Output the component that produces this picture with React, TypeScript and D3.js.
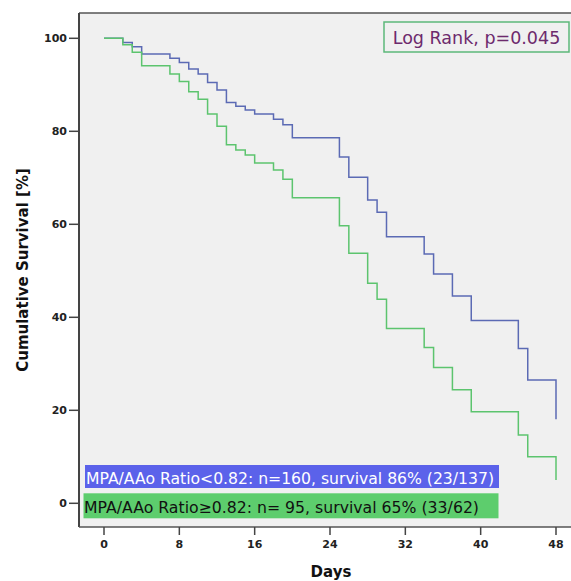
import React from 'react';
import * as d3 from 'd3';

// event days (both groups step on the same days)
const days = [0, 2, 3, 4, 7, 8, 9, 10, 11, 12, 13, 14, 15, 16, 18, 19, 20, 25, 26, 28, 29, 30, 34, 35, 37, 39, 44, 45, 48];
const survivalLow = [100, 99.1, 98.2, 96.6, 95.7, 94.8, 93.4, 92.3, 90.5, 88.9, 86.2, 85.4, 84.6, 83.7, 82.6, 81.4, 78.6, 74.5, 70.1, 65.2, 62.6, 57.3, 53.6, 49.3, 44.6, 39.3, 33.3, 26.5, 18.1];
const survivalHigh = [100, 98.6, 97.0, 94.1, 92.3, 90.7, 88.5, 86.9, 83.7, 81.1, 77.1, 76.0, 74.9, 73.2, 71.7, 69.7, 65.7, 59.7, 53.8, 47.3, 43.9, 37.6, 33.5, 29.2, 24.4, 19.7, 14.7, 10.0, 5.0];

const xTicks = [0, 8, 16, 24, 32, 40, 48];
const yTicks = [0, 20, 40, 60, 80, 100];

const legendLabels = [
  'MPA/AAo Ratio<0.82: n=160, survival 86% (23/137)',
  'MPA/AAo Ratio\u22650.82: n= 95, survival 65% (33/62)',
];
const testLabel = 'Log Rank, p=0.045';

const W = 571;
const H = 581;
const FONT = 'DejaVu Sans';

export default function App() {
  const plot = { left: 79, top: 13, right: 573, bottom: 527 };
  const x = d3.scaleLinear().domain([0, 48]).range([104, 556]);
  const y = d3.scaleLinear().domain([0, 100]).range([503.3, 38.3]);

  const line = d3
    .line<number>()
    .x((_, i) => x(days[i]))
    .y((d) => y(d))
    .curve(d3.curveStepAfter);

  return (
    <svg
      width={W}
      height={H}
      style={{ position: 'absolute', left: 0, top: 0, background: '#fff' }}
      fontFamily={FONT}
    >
      {/* plot area */}
      <rect
        x={plot.left}
        y={plot.top}
        width={plot.right - plot.left}
        height={plot.bottom - plot.top}
        fill="#f0f0f0"
      />
      <line x1={plot.left} x2={plot.right} y1={plot.top} y2={plot.top} stroke="#555" strokeWidth={1.5} />

      {/* curves */}
      <path d={line(survivalLow) || ''} fill="none" stroke="#5b6ab4" strokeWidth={1.5} />
      <path d={line(survivalHigh) || ''} fill="none" stroke="#5cc46e" strokeWidth={1.5} />

      {/* log rank box */}
      <rect x={384} y={22} width={185} height={30} fill="#f0f0f0" stroke="#5cb87a" strokeWidth={1.5} />
      <text x={476.5} y={43.5} textAnchor="middle" fontSize={17.5} fill="#6d2a6d">
        {testLabel}
      </text>

      {/* legend */}
      <rect x={85} y={465} width={414} height={23} fill="#5b62ea" />
      <text x={86} y={484} fontSize={16} fill="#fff" textLength={408} lengthAdjust="spacingAndGlyphs">
        {legendLabels[0]}
      </text>
      <rect x={83.5} y={493.3} width={415} height={25} fill="#5dcd6d" />
      <text x={84} y={513} fontSize={16} fill="#111" textLength={395} lengthAdjust="spacingAndGlyphs">
        {legendLabels[1]}
      </text>

      {/* axes */}
      <line x1={plot.left} x2={plot.left} y1={plot.top} y2={plot.bottom} stroke="#444" strokeWidth={2} />
      <line x1={plot.left} x2={plot.right} y1={plot.bottom} y2={plot.bottom} stroke="#555" strokeWidth={1.5} />

      {yTicks.map((t) => (
        <g key={`y${t}`}>
          <line x1={69} x2={plot.left} y1={y(t)} y2={y(t)} stroke="#444" strokeWidth={1.5} />
          <text x={67} y={y(t)} dy="0.35em" textAnchor="end" fontSize={11} fontWeight="bold" fill="#222">
            {t}
          </text>
        </g>
      ))}
      {xTicks.map((t) => (
        <g key={`x${t}`}>
          <line x1={x(t)} x2={x(t)} y1={plot.bottom} y2={plot.bottom + 8} stroke="#444" strokeWidth={1.5} />
          <text x={x(t)} y={548} textAnchor="middle" fontSize={11} fontWeight="bold" fill="#222">
            {t}
          </text>
        </g>
      ))}

      {/* axis titles */}
      <text x={331} y={577} textAnchor="middle" fontSize={15} fontWeight="bold" fill="#111">
        Days
      </text>
      <text
        transform="translate(28,270) rotate(-90)"
        textAnchor="middle"
        fontSize={15}
        fontWeight="bold"
        fill="#111"
      >
        Cumulative Survival [%]
      </text>
    </svg>
  );
}
